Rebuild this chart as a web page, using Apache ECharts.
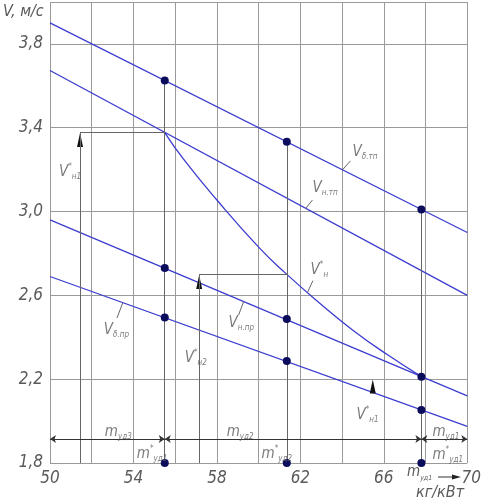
<!DOCTYPE html>
<html>
<head>
<meta charset="utf-8">
<script src="https://cdn.jsdelivr.net/npm/echarts@6/dist/echarts.min.js"></script>
<style>
  html, body { margin: 0; padding: 0; background: #fff; }
  #chart { width: 484px; height: 503px; }
</style>
</head>
<body>
<div id="chart"></div>
<script>
// ось x: кг/кВт, ось y: V, м/с
const xLabels = [50, 54, 58, 62, 66, 70];
const yLabels = [1.8, 2.2, 2.6, 3.0, 3.4, 3.8];

// прямые, значения на краях x = 50 и x = 70
const lineX = [50, 70];
const vDeltaTp = [3.90, 2.90];
const vNTp = [3.673, 2.60];
const vNPr = [2.96, 2.12];
const vDeltaPr = [2.69, 1.975];

// кривая V_н*
const curveX = [55.5, 56.4, 58.0, 60.0, 61.3, 62.9, 64.5, 66.2, 67.8];
const curveY = [3.377, 3.25, 3.055, 2.83, 2.705, 2.565, 2.435, 2.315, 2.212];

// точки при m_уд
const mX = [55.5, 61.35, 67.8];
const dotsTp = [3.625, 3.333, 3.01];
const dotsNPr = [2.73, 2.487, 2.212];
const dotsDPr = [2.494, 2.287, 2.053];
const dotsAxis = [1.8, 1.8, 1.8];

// построение V_н1*, V_н2*
const vStarX = [51.44, 57.15];
const vStarY = [3.377, 2.70];
const arrowX = [51.44, 57.15, 65.47];
const arrowY = [3.342, 2.664, 2.165];
const dimY = 1.915;

const FONT = "'Liberation Sans Narrow', 'DejaVu Sans Condensed', 'Liberation Sans', sans-serif";
const BLUE = '#3c3cd0';
const GRAY = '#5a5a5a';

const zip = (xs, ys) => xs.map((x, i) => [x, ys[i]]);

// подпись с индексами
const lab = (main, sub, star) =>
  '{m|' + main + '}' + (star ? '{p|*}' : '') + '{s|' + sub + '}';

const rich = {
  m: { fontSize: 15, fontFamily: FONT, fontStyle: 'italic', color: GRAY, lineHeight: 18 },
  s: { fontSize: 8, fontFamily: FONT, fontStyle: 'italic', color: GRAY, verticalAlign: 'bottom' },
  p: { fontSize: 8, fontFamily: FONT, color: GRAY, verticalAlign: 'top' }
};

// то же для graphic (стиль zrender)
const richG = {
  m: { fontSize: 15, fontFamily: FONT, fontStyle: 'italic', fill: GRAY, lineHeight: 18 },
  s: { fontSize: 7, fontFamily: FONT, fontStyle: 'italic', fill: GRAY, verticalAlign: 'bottom' }
};

// подписи на поле графика (положение в координатах данных)
const notes = [
  { t: lab('V', 'δ.тп'), at: [64.5, 3.285] },
  { t: lab('V', 'н.тп'), at: [62.58, 3.113] },
  { t: lab('V', 'н', true), at: [62.49, 2.721] },
  { t: lab('V', 'н.пр'), at: [58.56, 2.468] },
  { t: lab('V', 'δ.пр'), at: [52.58, 2.435] },
  { t: lab('V', 'н1', true), at: [50.43, 3.189] },
  { t: lab('V', 'н2', true), at: [56.46, 2.30] },
  { t: lab('V', 'н1', true), at: [64.69, 2.029] },
  { t: lab('m', 'уд3'), at: [52.63, 1.948] },
  { t: lab('m', 'уд1', true), at: [54.16, 1.843] },
  { t: lab('m', 'уд2'), at: [58.47, 1.948] },
  { t: lab('m', 'уд2', true), at: [60.14, 1.843] },
  { t: lab('m', 'уд1'), at: [68.33, 1.948] },
  { t: lab('m', 'уд1', true), at: [68.33, 1.838] }
];

// выноски от подписей к линиям
const leaders = [
  [[64.02, 3.199], [64.4, 3.242]],
  [[62.25, 3.014], [62.58, 3.055]],
  [[62.34, 2.614], [62.6, 2.67]],
  [[59.28, 2.57], [59.04, 2.506]],
  [[53.49, 2.565], [53.21, 2.492]]
];

const seg = (a, b) => [{ coord: a }, { coord: b }];

// вспомогательные тонкие линии
const helperLines = [];
mX.forEach((x, i) => helperLines.push(seg([x, dotsTp[i]], [x, dotsAxis[i]])));
vStarX.forEach((x, i) => {
  helperLines.push(seg([x, 1.8], [x, vStarY[i]]));
  helperLines.push(seg([x, vStarY[i]], [mX[i], vStarY[i]]));
});
leaders.forEach(l => helperLines.push(seg(l[0], l[1])));

// размерная линия
const dimBreaks = [50, mX[0], mX[2], 70];
const dimLines = [];
for (let i = 0; i < dimBreaks.length - 1; i++) {
  dimLines.push(seg([dimBreaks[i], dimY], [dimBreaks[i + 1], dimY]));
}

const blueLine = (name, ys) => ({
  name: name,
  type: 'line',
  data: zip(lineX, ys),
  symbol: 'none',
  lineStyle: { color: BLUE, width: 1.3 },
  silent: true,
  z: 3
});

const chart = echarts.init(document.getElementById('chart'));

chart.setOption({
  animation: false,
  backgroundColor: '#fff',
  grid: { left: 50, right: 16, top: 2, bottom: 40 },
  xAxis: {
    type: 'value',
    min: 50,
    max: 70,
    interval: 2,
    axisLine: { show: false },
    axisTick: { show: false },
    splitLine: { show: true, lineStyle: { color: '#9a9a9a', width: 1 } },
    axisLabel: {
      margin: 7,
      color: GRAY,
      fontFamily: FONT,
      fontStyle: 'italic',
      fontSize: 17,
      // последняя метка чуть правее, перед ней стрелка
      formatter: v => {
        if (v === 70) return '{r|70}';
        return xLabels.indexOf(v) >= 0 ? String(v) : '';
      },
      rich: {
        r: { fontSize: 17, fontFamily: FONT, fontStyle: 'italic', color: GRAY, padding: [0, 0, 0, 8] }
      }
    }
  },
  yAxis: {
    type: 'value',
    min: 1.8,
    max: 4.0,
    interval: 0.4,
    axisLine: { show: false },
    axisTick: { show: false },
    splitLine: { show: true, lineStyle: { color: '#9a9a9a', width: 1 } },
    axisLabel: {
      margin: 7,
      color: GRAY,
      fontFamily: FONT,
      fontStyle: 'italic',
      fontSize: 17,
      formatter: v => {
        const hit = yLabels.find(t => Math.abs(t - v) < 1e-6);
        return hit === undefined ? '' : hit.toFixed(1).replace('.', ',');
      }
    }
  },
  graphic: [
    {
      type: 'text', left: 3, top: 4,
      style: { text: 'V, м/с', fill: GRAY, fontSize: 16, fontStyle: 'italic', fontFamily: FONT }
    },
    {
      type: 'text', left: 416, top: 485,
      style: { text: 'кг/кВт', fill: GRAY, fontSize: 16, fontStyle: 'italic', fontFamily: FONT }
    },
    {
      type: 'text', left: 407, top: 465,
      style: { text: lab('m', 'уд1'), rich: richG }
    },
    {
      type: 'line',
      shape: { x1: 438, y1: 477, x2: 454, y2: 477 },
      style: { stroke: '#333', lineWidth: 1 }
    },
    {
      type: 'polygon',
      shape: { points: [[461, 477], [452, 474.5], [452, 479.5]] },
      style: { fill: '#222' }
    }
  ],
  series: [
    blueLine('V δ.тп', vDeltaTp),
    blueLine('V н.тп', vNTp),
    blueLine('V н.пр', vNPr),
    blueLine('V δ.пр', vDeltaPr),
    {
      name: 'V н*',
      type: 'line',
      data: zip(curveX, curveY),
      smooth: 0.5,
      symbol: 'none',
      lineStyle: { color: BLUE, width: 1.3 },
      silent: true,
      z: 3
    },
    {
      // тонкие построения
      name: 'helpers',
      type: 'line',
      data: [],
      silent: true,
      z: 2,
      markLine: {
        silent: true,
        animation: false,
        symbol: ['none', 'none'],
        label: { show: false },
        lineStyle: { type: 'solid', color: '#666', width: 1 },
        data: helperLines
      }
    },
    {
      name: 'dims',
      type: 'line',
      data: [],
      silent: true,
      z: 2,
      markLine: {
        silent: true,
        animation: false,
        symbol: ['arrow', 'arrow'],
        symbolSize: 6,
        label: { show: false },
        lineStyle: { type: 'solid', color: '#333', width: 1 },
        itemStyle: { color: '#222' },
        data: dimLines
      }
    },
    {
      name: 'arrows',
      type: 'scatter',
      data: zip(arrowX, arrowY),
      symbol: 'triangle',
      symbolSize: [6, 14],
      itemStyle: { color: '#111', opacity: 1 },
      silent: true,
      z: 4
    },
    {
      name: 'dots',
      type: 'scatter',
      clip: false,
      data: [].concat(
        zip(mX, dotsTp),
        zip(mX, dotsNPr),
        zip(mX, dotsDPr),
        zip(mX, dotsAxis)
      ),
      symbol: 'circle',
      symbolSize: 8,
      itemStyle: { color: '#0c0c5c', opacity: 1 },
      silent: true,
      z: 5
    },
    {
      name: 'notes',
      type: 'scatter',
      data: notes.map(n => ({
        value: n.at,
        label: { formatter: n.t }
      })),
      symbolSize: 0,
      silent: true,
      z: 6,
      label: {
        show: true,
        position: 'right',
        distance: 0,
        rich: rich
      }
    }
  ]
});
</script>
</body>
</html>
